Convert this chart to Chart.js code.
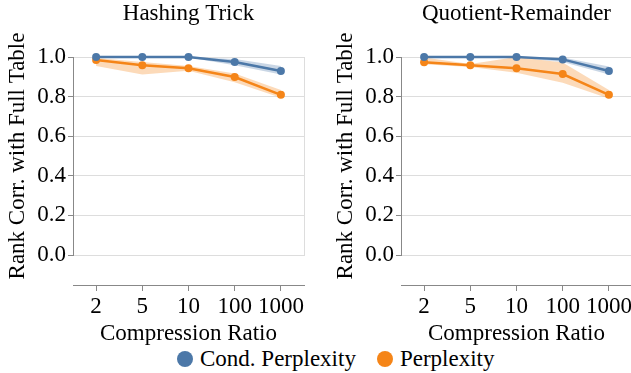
<!DOCTYPE html>
<html>
<head>
  <title>Rank correlation vs compression</title>
  <script src="https://cdn.jsdelivr.net/npm/chart.js"></script>
  <style>
    body { margin: 0; background: #fff; font-family: Liberation Serif; }
    #wrap { position: relative; width: 631px; height: 373px; overflow: hidden; font-family: Liberation Serif; }
    #left { position: absolute; left: 0; top: 0; }
    #right { position: absolute; left: 328px; top: 0; }
    #legend { position: absolute; left: 177px; top: 345px; display: flex; align-items: center; font-size: 23px; line-height: 27px; color: #000; }
    #legend .dot { width: 16px; height: 16px; border-radius: 50%; margin-right: 7px; }
    #legend .item { display: flex; align-items: center; margin-right: 21px; }
  </style>
</head>
<body>
<div id="wrap">
  <canvas id="left" width="316" height="345"></canvas>
  <canvas id="right" width="316" height="345"></canvas>
  <div id="legend"></div>
</div>

<script>
  const ratios = ['2', '5', '10', '100', '1000'];
  const yTicks = [0, 0.2, 0.4, 0.6, 0.8, 1.0];

  // Hashing Trick
  const hashCond   = [1.0, 1.0, 1.0, 0.975, 0.929];
  const hashCondLo = [0.998, 0.998, 0.998, 0.958, 0.912];
  const hashCondHi = [1.0, 1.0, 1.0, 0.99, 0.954];
  const hashPerp   = [0.985, 0.958, 0.943, 0.899, 0.809];
  const hashPerpLo = [0.955, 0.912, 0.93, 0.873, 0.794];
  const hashPerpHi = [0.995, 0.975, 0.954, 0.917, 0.833];

  // Quotient-Remainder
  const qrCond   = [1.0, 1.0, 1.0, 0.988, 0.929];
  const qrCondLo = [0.998, 0.998, 0.998, 0.975, 0.912];
  const qrCondHi = [1.0, 1.0, 1.0, 0.997, 0.952];
  const qrPerp   = [0.973, 0.958, 0.943, 0.914, 0.809];
  const qrPerpLo = [0.963, 0.95, 0.921, 0.87, 0.79];
  const qrPerpHi = [0.997, 0.965, 1.0, 0.972, 0.833];

  const seriesNames = ['Cond. Perplexity', 'Perplexity'];
  const seriesColors = ['#4c78a8', '#f58518'];
  const bandColors = ['rgba(76,120,168,0.3)', 'rgba(245,133,24,0.3)'];

  const AXIS_GAP = 30;
  const FONT = 'Liberation Serif';

  // push the x axis down, away from the plot (vega-style offset axis)
  const dropAxis = {
    id: 'dropAxis',
    afterLayout(chart) {
      chart.scales.x.top += AXIS_GAP;
    }
  };

  function band(lo, hi, color) {
    return [
      { data: hi, xAxisID: 'x', yAxisID: 'y', borderWidth: 0, pointRadius: 0, fill: false, order: 2, backgroundColor: color },
      { data: lo, xAxisID: 'x', yAxisID: 'y', borderWidth: 0, pointRadius: 0, fill: '-1', order: 2, backgroundColor: color }
    ];
  }

  function line(values, color) {
    return {
      data: values, xAxisID: 'x', yAxisID: 'y',
      borderColor: color, backgroundColor: color,
      borderWidth: 2.5, pointRadius: 4, pointBorderWidth: 0, fill: false, order: 0
    };
  }

  function makePanel(id, title, cond, condLo, condHi, perp, perpLo, perpHi) {
    const font = { family: FONT, size: 23, weight: 'normal' };
    return new Chart(document.getElementById(id), {
      type: 'line',
      data: {
        labels: ratios,
        datasets: [
          ...band(condLo, condHi, bandColors[0]),
          ...band(perpLo, perpHi, bandColors[1]),
          line(cond, seriesColors[0]),
          line(perp, seriesColors[1])
        ]
      },
      options: {
        responsive: false,
        animation: false,
        color: '#000',
        font: font,
        layout: { padding: 0 },
        elements: { line: { tension: 0 } },
        datasets: { line: { clip: 8 } },
        plugins: {
          legend: { display: false },
          tooltip: { enabled: false }
        },
        scales: {
          x: {
            type: 'category',
            position: 'bottom',
            offset: true,
            grid: { drawOnChartArea: false, offset: false, tickLength: 6, tickColor: '#888' },
            border: { color: '#888' },
            ticks: { padding: 2, maxRotation: 0, autoSkip: false, color: '#000', font: font },
            title: { display: true, text: 'Compression Ratio', color: '#000', font: { ...font, lineHeight: 1 }, padding: 0 },
            afterFit: s => { s.height = 90; }
          },
          // empty top axis, only carries the panel title centred over the plot
          top: {
            type: 'category', position: 'top', display: true, offset: true,
            ticks: { display: false },
            grid: { display: false, drawTicks: false },
            border: { display: false },
            title: { display: true, text: title, color: '#000', font: font, padding: 0 },
            afterFit: s => { s.height = 57; }
          },
          y: {
            position: 'left',
            min: 0, max: 1,
            afterBuildTicks: s => { s.ticks = yTicks.map(v => ({ value: v })); },
            ticks: { padding: 2, color: '#000', font: font, callback: v => Number(v).toFixed(1) },
            grid: { color: '#ddd', tickColor: '#888', tickLength: 5 },
            border: { color: '#888' },
            title: { display: true, text: 'Rank Corr. with Full Table', color: '#000', font: font, padding: { top: 4, bottom: 0 } },
            afterFit: s => { s.width = 73; }
          },
          y2: {
            position: 'right', min: 0, max: 1, display: true,
            ticks: { display: false },
            grid: { display: false, drawTicks: false },
            border: { display: true, color: '#ddd' },
            afterFit: s => { s.width = 12; }
          }
        }
      },
      plugins: [dropAxis]
    });
  }

  makePanel('left', 'Hashing Trick', hashCond, hashCondLo, hashCondHi, hashPerp, hashPerpLo, hashPerpHi);
  makePanel('right', 'Quotient-Remainder', qrCond, qrCondLo, qrCondHi, qrPerp, qrPerpLo, qrPerpHi);

  const legend = document.getElementById('legend');
  seriesNames.forEach((name, i) => {
    const item = document.createElement('div');
    item.className = 'item';
    const dot = document.createElement('span');
    dot.className = 'dot';
    dot.style.background = seriesColors[i];
    item.appendChild(dot);
    item.appendChild(document.createTextNode(name));
    legend.appendChild(item);
  });
</script>
</body>
</html>
